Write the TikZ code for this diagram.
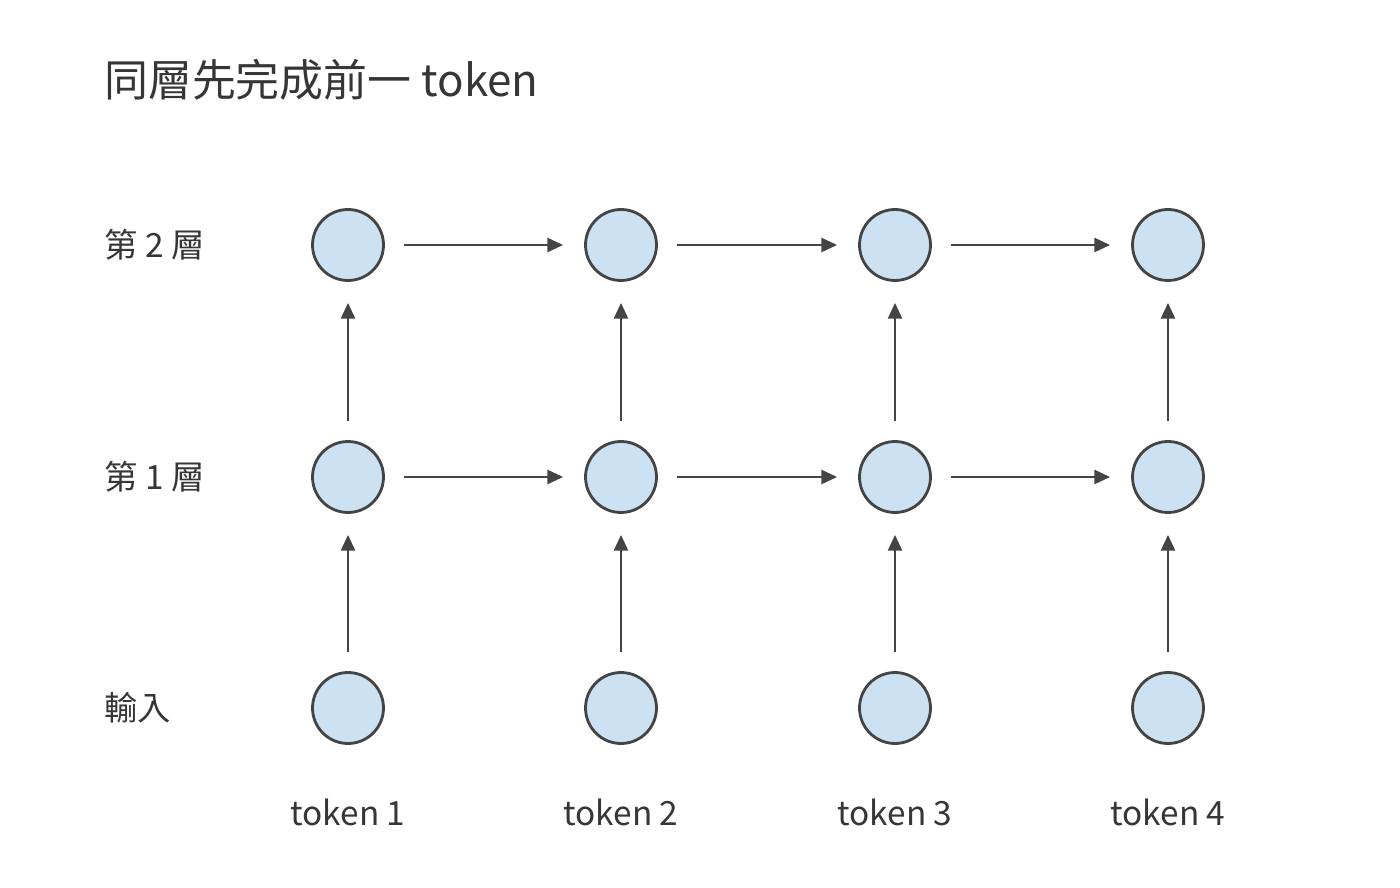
\documentclass[tikz,border=0pt]{standalone}
\usepackage{fontspec}
\setmainfont{Noto Sans CJK TC}
\usetikzlibrary{arrows.meta, positioning}
\definecolor{cellfill}{HTML}{CCE1F2}
\definecolor{ink}{HTML}{444444}
\begin{document}
\begin{tikzpicture}[x=0.02cm, y=-0.02cm,
    cell/.style = {circle, draw=ink, fill=cellfill, line width=1.6pt,
        minimum size=1.42cm, inner sep=0pt},
    flow/.style = {-{Triangle[length=9pt,width=8pt]}, draw=ink, line width=1.4pt,
        shorten <=0.38cm, shorten >=0.42cm},
    rowlabel/.style = {anchor=west, text=ink!80!black, font=\fontsize{19pt}{22pt}\selectfont},
    toklabel/.style = {text=ink!80!black, font=\fontsize{19pt}{22pt}\selectfont}]
    \useasboundingbox (0,0) rectangle (1400,888);
    \node [anchor=west, text=ink!80!black, font=\fontsize{25pt}{30pt}\selectfont]
        (title) at (98,80) {同層先完成前一 token};
    \node (lbl2) [rowlabel] at (98,245) {第 2 層};
    \node (lbl1) [rowlabel] at (98,477) {第 1 層};
    \node (lbl0) [rowlabel] at (98,708) {輸入};
    \foreach \i/\x in {1/348, 2/621, 3/895, 4/1168} {
        \node (in\i) [cell] at (\x,708) {};
        \node (a\i) [cell] at (\x,477) {};
        \node (b\i) [cell] at (\x,245) {};
        \node (tok\i) [toklabel] at (\x,812) {token \i};
        \draw [flow] (in\i) -- (a\i);
        \draw [flow] (a\i) -- (b\i);
    }
    \foreach \i/\j in {1/2, 2/3, 3/4} {
        \draw [flow] (a\i) -- (a\j);
        \draw [flow] (b\i) -- (b\j);
    }
\end{tikzpicture}
\end{document}
